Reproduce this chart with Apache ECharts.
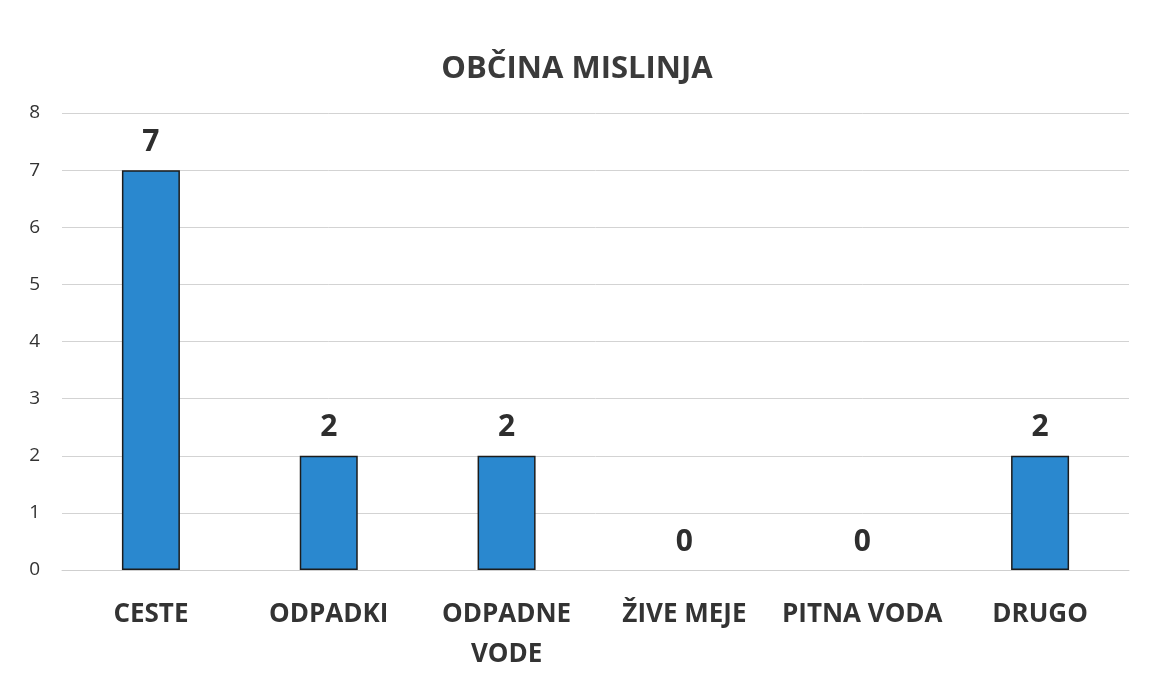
<!DOCTYPE html>
<html><head><meta charset="utf-8">
<script src="https://cdn.jsdelivr.net/npm/echarts@6/dist/echarts.min.js"></script>
<style>html,body{margin:0;padding:0;background:#fff}#c{width:1154px;height:682px}</style>
</head><body><div id="c"></div>
<script>
const titleText = 'OBČINA MISLINJA';
const categories = ['CESTE', 'ODPADKI', 'ODPADNE\nVODE', 'ŽIVE MEJE', 'PITNA VODA', 'DRUGO'];
const values = [7, 2, 2, 0, 0, 2];
const yTicks = [0, 1, 2, 3, 4, 5, 6, 7, 8];

const chart = echarts.init(document.getElementById('c'));
chart.setOption({
  backgroundColor: '#fff',
  animation: false,
  title: {
    text: titleText, left: 'center', top: 49,
    textStyle: {fontFamily: 'Open Sans', fontWeight: 'bold', fontSize: 31, color: '#3a3a3a'}
  },
  grid: {left: 62, right: 25, top: 113, bottom: 112, containLabel: false},
  xAxis: {
    type: 'category', data: categories,
    axisLine: {show: true, lineStyle: {color: '#cfcfcf', width: 1}},
    axisTick: {show: false},
    axisLabel: {margin: 25, fontFamily: 'Open Sans', fontWeight: 'bold', fontSize: 26, color: '#333', lineHeight: 40, interval: 0}
  },
  yAxis: {
    type: 'value', min: yTicks[0], max: yTicks[yTicks.length - 1], interval: 1,
    axisLine: {show: false}, axisTick: {show: false},
    splitLine: {lineStyle: {color: '#d3d3d3', width: 1}},
    axisLabel: {margin: 22, fontFamily: 'Open Sans', fontSize: 19, color: '#333'}
  },
  series: [{
    type: 'bar',
    data: values.map(v => v === 0 ? {value: v, itemStyle: {borderWidth: 0}} : v),
    barWidth: 58,
    itemStyle: {color: '#2a88cf', borderColor: '#1c1c1c', borderWidth: 1.5},
    label: {show: true, position: 'top', distance: 13, fontFamily: 'Open Sans', fontWeight: 'bold', fontSize: 30, color: '#2e2e2e'}
  }]
});
</script></body></html>
